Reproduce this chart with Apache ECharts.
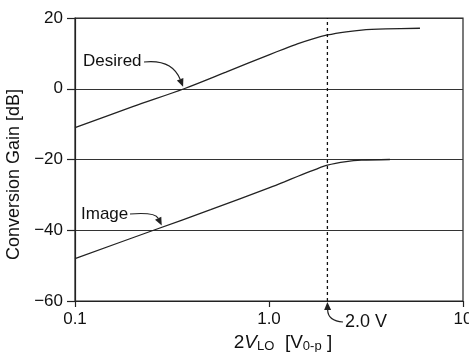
<!DOCTYPE html>
<html>
  <head>
    <meta charset="utf-8" />
    <title>Conversion Gain</title>
    <script src="https://cdn.jsdelivr.net/npm/echarts@6/dist/echarts.min.js"></script>
    <style type="text/css">
      body { margin: 0; background: #fff; }
      #chart { width: 469px; height: 352px; }
    </style>
  </head>
  <body>
    <div id="chart"></div>
    <script type="text/javascript">
      // data (x = 2V_LO in V0-p, y = gain in dB)
      var desiredX = [0.1, 0.2, 0.365, 0.6, 1.0, 1.2, 1.4, 1.7, 2.0, 2.5, 3.0, 4.0, 6.0];
      var desiredY = [-11, -5, 0, 4.7, 9.6, 11.3, 12.7, 14.2, 15.2, 16.1, 16.6, 16.9, 17.1];
      var imageX = [0.1, 0.254, 0.5, 1.0, 1.2, 1.4, 1.7, 2.0, 2.5, 3.0, 4.2];
      var imageY = [-48, -40, -34.2, -28, -26.3, -24.8, -23.0, -21.6, -20.6, -20.2, -20.0];
      var markerV = 2.0;
      var yTicks = [-60, -40, -20, 0, 20];

      function pairs(xs, ys) {
        return xs.map(function (x, i) { return [x, ys[i]]; });
      }

      var ink = '#222';
      var font = 'Liberation Sans';
      var chart = echarts.init(document.getElementById('chart'));

      var option = {
        animation: false,
        textStyle: { fontFamily: font },
        grid: {
          left: 75, right: 6, top: 18, bottom: 51,
          containLabel: false, outerBoundsMode: 'none',
          show: true, borderColor: ink, borderWidth: 1.2
        },
        xAxis: {
          type: 'log', logBase: 10, min: 0.1, max: 10,
          axisLine: { onZero: false, lineStyle: { color: ink, width: 1.2 } },
          axisTick: { show: true, length: 6, lineStyle: { color: ink, width: 1.2 } },
          minorTick: { show: false },
          splitLine: { show: false },
          axisLabel: {
            color: '#111', fontSize: 17, margin: 10, fontFamily: font,
            formatter: function (v) {
              var r = Math.round(v * 10) / 10;
              if (r === 1) return '1.0';
              if (r === 10) return '10';
              return String(r);
            }
          },
          name: '2{i|V}{sub|LO}  [V{sub|0-p} ]',
          nameLocation: 'middle', nameGap: 28,
          nameTextStyle: {
            color: '#111', fontSize: 19, fontFamily: font, padding: [0, 0, 0, 28],
            rich: {
              i: { fontSize: 19, fontStyle: 'italic', color: '#111', fontFamily: font },
              sub: { fontSize: 13, verticalAlign: 'bottom', padding: [9, 0, 0, 0], color: '#111', fontFamily: font }
            }
          }
        },
        yAxis: {
          type: 'value', min: yTicks[0], max: yTicks[yTicks.length - 1], interval: 20,
          axisLine: { show: true, lineStyle: { color: ink, width: 1.2 } },
          axisTick: { show: true, length: 8, lineStyle: { color: ink, width: 1.2 } },
          splitLine: { show: true, lineStyle: { color: '#333', width: 1.2 } },
          axisLabel: {
            color: '#111', fontSize: 17, margin: 12, fontFamily: font,
            formatter: function (v) { return v < 0 ? '\u2212' + Math.abs(v) : String(v); }
          },
          name: 'Conversion Gain [dB]',
          nameLocation: 'middle', nameGap: 38,
          nameTextStyle: { color: '#111', fontSize: 18, fontFamily: font, padding: [0, 30, 0, 0] }
        },
        series: [
          {
            name: 'Desired', type: 'line', data: pairs(desiredX, desiredY),
            showSymbol: false, smooth: 0.3,
            lineStyle: { color: ink, width: 1.3 }
          },
          {
            name: 'Image', type: 'line', data: pairs(imageX, imageY),
            showSymbol: false, smooth: 0.3,
            lineStyle: { color: ink, width: 1.3 }
          },
          {
            name: 'marker', type: 'line', data: [[markerV, yTicks[0]], [markerV, yTicks[yTicks.length - 1]]],
            showSymbol: false,
            lineStyle: { color: '#111', width: 1.3, type: [3, 3] }
          }
        ]
      };
      chart.setOption(option);

      // annotation arrows, anchored on data points through the chart's scales
      function arrow(from, ctrl, to) {
        var dx = to[0] - ctrl[0], dy = to[1] - ctrl[1];
        var len = Math.sqrt(dx * dx + dy * dy);
        var ux = dx / len, uy = dy / len;
        var hl = 8, hw = 3.5;
        var bx = to[0] - ux * hl, by = to[1] - uy * hl;
        return [
          {
            type: 'bezierCurve',
            shape: { x1: from[0], y1: from[1], cpx1: ctrl[0], cpy1: ctrl[1], x2: bx, y2: by },
            style: { stroke: ink, lineWidth: 1.2, fill: null }
          },
          {
            type: 'polygon',
            shape: { points: [to, [bx - uy * hw, by + ux * hw], [bx + uy * hw, by - ux * hw]] },
            style: { fill: ink }
          }
        ];
      }

      var pDes = chart.convertToPixel({ gridIndex: 0 }, [desiredX[2], desiredY[2]]);
      var pImg = chart.convertToPixel({ gridIndex: 0 }, [0.28, -39.2]);
      var pMark = chart.convertToPixel({ gridIndex: 0 }, [markerV, yTicks[0]]);

      var g = [];
      g.push({ type: 'text', left: 83, top: 53, style: { text: 'Desired', font: '17px ' + font, fill: '#111' } });
      g = g.concat(arrow([144, 62], [172, 59], [pDes[0] - 1, pDes[1] - 2]));
      g.push({ type: 'text', left: 81, top: 206, style: { text: 'Image', font: '17px ' + font, fill: '#111' } });
      g = g.concat(arrow([130, 214], [155, 212], [pImg[0], pImg[1] - 2]));
      g.push({ type: 'text', left: 345, top: 313, style: { text: '2.0 V', font: '18px ' + font, fill: '#111' } });
      g = g.concat(arrow([343, 322], [328, 321], [pMark[0], pMark[1] + 1]));
      chart.setOption({ graphic: g });
    </script>
  </body>
</html>
